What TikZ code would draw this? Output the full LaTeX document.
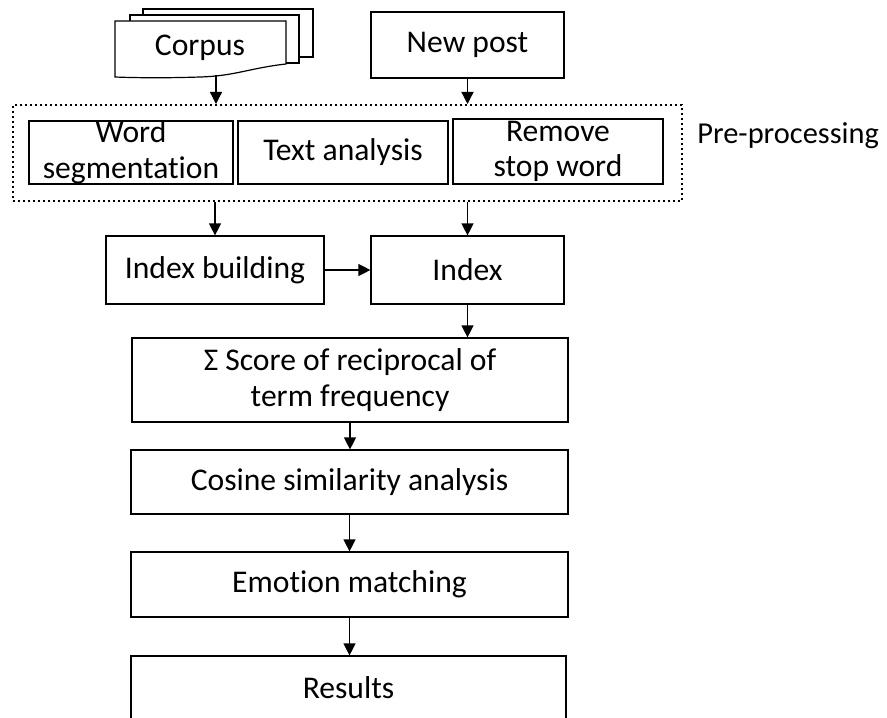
\documentclass[tikz,border=0pt]{standalone}
\usepackage{fontspec}
\setmainfont[Ligatures=NoCommon]{Carlito}
\usetikzlibrary{arrows.meta}
\tikzstyle{process} = [rectangle, draw=black, line width=0.6pt, inner sep=0pt, align=center, text centered]
\tikzstyle{doc} = [draw=black, line width=0.6pt, fill=white]
\tikzstyle{group} = [rectangle, draw=black, line width=1pt, dash pattern=on 1.2pt off 1.3pt]
\tikzstyle{arrow} = [line width=0.65pt, -{Triangle[length=6pt,width=6pt]}]

\begin{document}
\begin{tikzpicture}[x=0.5pt, y=-0.5pt, font=\fontsize{15.8}{17.8}\selectfont]
    \useasboundingbox (0,0) rectangle (887,717);
    % corpus: stack of documents
    \draw [doc] (143,9) rectangle (313,57);
    \draw [doc] (130,15) rectangle (299,63);
    \draw [doc] (115,21) -- (286,21) -- (286,64) .. controls (250,68) and (235,76) .. (200,77) .. controls (170,78) and (140,78) .. (115,77) -- cycle;
    \node (corpus) [inner sep=0pt] at (200,48) {Corpus};
    \coordinate (corpusout) at (216,75);
    \node (newpost) [process, minimum width=96.5pt, minimum height=33pt] at (467.5,45) {New post};
    % pre-processing group
    \node (prep) [group, minimum width=334.5pt, minimum height=48pt] at (347.5,153) {};
    \node (wordseg) [process, minimum width=102pt, minimum height=31.5pt] at (131,152.5) {Word\\segmentation};
    \node (textana) [process, minimum width=105pt, minimum height=31.5pt] at (343,152.5) {Text analysis};
    \node (stopword) [process, minimum width=105pt, minimum height=32.5pt] at (558,151.5) {Remove\\stop word};
    \node (preplabel) [anchor=base west, inner sep=0pt, font=\fontsize{15.2}{17}\selectfont] at (697,143) {Pre-processing};
    \draw [arrow] (corpusout) -- (corpusout |- prep.north);
    \draw [arrow] (newpost.south) -- (newpost.south |- prep.north);
    % index
    \node (indexb) [process, minimum width=109pt, minimum height=34pt] at (215,270) {Index building};
    \node (index) [process, minimum width=96.5pt, minimum height=34pt] at (467.5,270) {Index};
    \draw [arrow] (indexb.north |- prep.south) -- (indexb.north);
    \draw [arrow] (index.north |- prep.south) -- (index.north);
    \draw [arrow] (indexb) -- (index);
    % scoring and matching
    \node (score) [process, minimum width=218pt, minimum height=42pt] at (350,380) {Σ Score of reciprocal of\\term frequency};
    \draw [arrow] (index.south) -- (index.south |- score.north);
    \node (cosine) [process, minimum width=218.5pt, minimum height=32pt] at (349.5,482) {Cosine similarity analysis};
    \draw [arrow] (score.south) -- (score.south |- cosine.north);
    \node (emotion) [process, minimum width=218.5pt, minimum height=32.5pt] at (349.5,584.5) {Emotion matching};
    \draw [arrow] (cosine.south) -- (cosine.south |- emotion.north);
    \node (results) [process, minimum width=217.5pt, minimum height=32pt] at (348.5,688) {Results};
    \draw [arrow] (emotion.south) -- (emotion.south |- results.north);
\end{tikzpicture}
\end{document}
